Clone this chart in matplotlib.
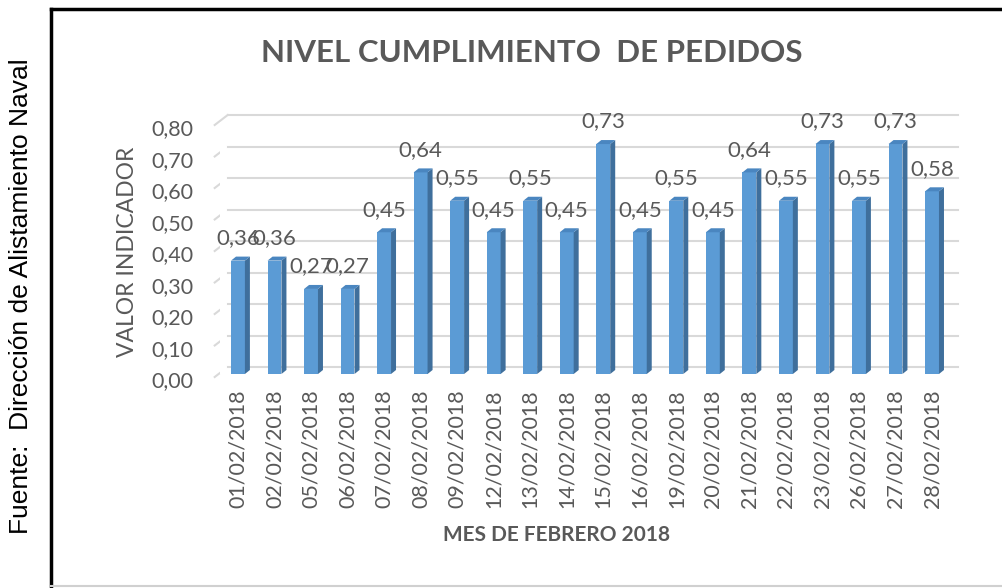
import matplotlib
matplotlib.use("Agg")
import matplotlib.pyplot as plt
import matplotlib.patches as patches
import matplotlib.transforms as mtransforms
from matplotlib.lines import Line2D

fechas = ["01/02/2018", "02/02/2018", "05/02/2018", "06/02/2018", "07/02/2018",
          "08/02/2018", "09/02/2018", "12/02/2018", "13/02/2018", "14/02/2018",
          "15/02/2018", "16/02/2018", "19/02/2018", "20/02/2018", "21/02/2018",
          "22/02/2018", "23/02/2018", "26/02/2018", "27/02/2018", "28/02/2018"]
valores = [0.36, 0.36, 0.27, 0.27, 0.45, 0.64, 0.55, 0.45, 0.55, 0.45,
           0.73, 0.45, 0.55, 0.45, 0.64, 0.55, 0.73, 0.55, 0.73, 0.58]
ticks_y = [0.0, 0.1, 0.2, 0.3, 0.4, 0.5, 0.6, 0.7, 0.8]

W, H = 1003, 588
gris = "#595959"
azul = "#5b9bd5"
lado = "#3f6f9c"
techo = "#4a86c0"
fuente = "Lato"

fig = plt.figure(figsize=(W / 100, H / 100), dpi=100)
ax = fig.add_axes([219.7 / W, (H - 374) / H, 730.6 / W, 252 / H])
ax.set_xlim(-0.5, len(valores) - 0.5)
ax.set_ylim(0, 0.8)
for s in ax.spines.values():
    s.set_visible(False)

# pixels per data unit
px_x = 730.6 / len(valores)
px_y = 252 / 0.8

# gridlines on the back wall, with a little diagonal stub from the front
atras = mtransforms.offset_copy(ax.transData, fig=fig, x=8, y=7, units="dots")
frente = mtransforms.offset_copy(ax.transData, fig=fig, x=-5, y=-3, units="dots")
x0, x1 = -0.5, len(valores) - 0.5
for t in ticks_y:
    ax.plot([x0, x1], [t, t], color="#d9d9d9", lw=1.5, transform=atras,
            clip_on=False, zorder=0)
    p1 = frente.transform((x0, t))
    p2 = atras.transform((x0, t))
    fig.add_artist(Line2D([p1[0], p2[0]], [p1[1], p2[1]], color="#d9d9d9", lw=1.5,
                          transform=None, zorder=0))

# 3d-ish bars
ancho = 0.38
dx = 5 / px_x
dy = 4 / px_y
xs = list(range(len(valores)))
ax.bar(xs, valores, width=ancho, color=azul, zorder=3)
for x, v in zip(xs, valores):
    r = x + ancho / 2
    l = x - ancho / 2
    ax.add_patch(patches.Polygon([(r, 0), (r + dx, dy), (r + dx, v + dy), (r, v)],
                                 closed=True, facecolor=lado, edgecolor="none", zorder=3))
    ax.add_patch(patches.Polygon([(l, v), (l + dx, v + dy), (r + dx, v + dy), (r, v)],
                                 closed=True, facecolor=techo, edgecolor="none", zorder=3))
    ax.annotate(("%.2f" % v).replace(".", ","), (x, v), xytext=(0, 9),
                textcoords="offset points", ha="center", va="bottom",
                fontsize=16, color=gris, family=fuente, zorder=4)

ax.set_yticks(ticks_y)
ax.set_yticklabels([("%.2f" % t).replace(".", ",") for t in ticks_y],
                   fontsize=15.5, color=gris, family=fuente)
ax.set_xticks(xs)
ax.set_xticklabels(fechas, rotation=90, fontsize=15.5, color=gris, family=fuente)
ax.tick_params(axis="y", length=0, pad=19)
ax.tick_params(axis="x", length=0, pad=11)
baja = mtransforms.ScaledTranslation(0, -4 / 72, fig.dpi_scale_trans)
for lab in ax.get_yticklabels():
    lab.set_transform(lab.get_transform() + baja)

fig.text(532 / W, 1 - 53 / H, "NIVEL CUMPLIMIENTO  DE PEDIDOS", ha="center", va="center",
         fontsize=22.5, fontweight="bold", color=gris, family=fuente)
fig.text(557 / W, 1 - 535 / H, "MES DE FEBRERO 2018", ha="center", va="center",
         fontsize=15, fontweight="bold", color=gris, family=fuente)
fig.text(128 / W, 1 - 252 / H, "VALOR INDICADOR", ha="center", va="center",
         rotation=90, fontsize=16.5, color=gris, family=fuente)
fig.text(21 / W, 1 - 296 / H, "Fuente:  Dirección de Alistamiento Naval", ha="center",
         va="center", rotation=90, fontsize=19, color="black", family="Liberation Sans")

# frame around the chart
fig.add_artist(Line2D([51 / W, 1], [1 - 9 / H, 1 - 9 / H], color="black", lw=2.5,
                      transform=fig.transFigure))
fig.add_artist(Line2D([51 / W, 51 / W], [1 - 9 / H, 0], color="black", lw=2.5,
                      transform=fig.transFigure))
fig.add_artist(Line2D([51 / W, 1], [1 - 586 / H, 1 - 586 / H], color="#d0d0d0", lw=1.5,
                      transform=fig.transFigure))

fig.savefig("out.png", dpi=100)
